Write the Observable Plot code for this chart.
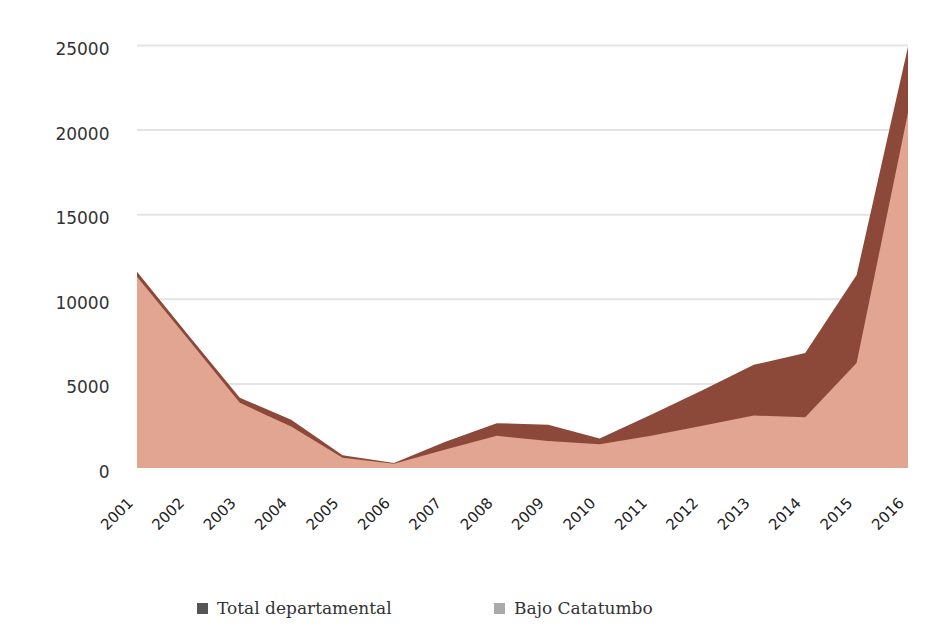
<!DOCTYPE html>
<html>
<head>
<meta charset="utf-8">
<script src="https://cdn.jsdelivr.net/npm/d3@7"></script>
<script src="https://cdn.jsdelivr.net/npm/@observablehq/plot@0.6"></script>
<style>
  html, body { margin: 0; padding: 0; background: #fff; }
  #wrap { position: relative; width: 951px; height: 636px; }
  .leg { position: absolute; top: 598px; font-family: "DejaVu Serif", "Liberation Serif", serif; font-size: 17px; color: #333; display: flex; align-items: center; }
  .sw { width: 11px; height: 11px; margin-right: 9px; display: inline-block; }
</style>
</head>
<body>
<div id="wrap">
  <div id="chart"></div>
  <div class="leg" style="left:197px"><span class="sw" style="background:#555"></span>Total departamental</div>
  <div class="leg" style="left:494px"><span class="sw" style="background:#aaa"></span>Bajo Catatumbo</div>
</div>
<script>
const years = [2001,2002,2003,2004,2005,2006,2007,2008,2009,2010,2011,2012,2013,2014,2015,2016];
const totalDepartamental = [11600,7850,4150,2850,750,300,1550,2650,2550,1750,3150,4600,6100,6800,11400,24900];
const bajoCatatumbo = [11300,7600,3850,2450,600,250,1100,1900,1600,1400,1900,2500,3100,3000,6200,21000];
const yTicks = [0,5000,10000,15000,20000,25000];

const data = years.map((y, i) => ({year: y, total: totalDepartamental[i], bajo: bajoCatatumbo[i]}));

const chart = Plot.plot({
  width: 951,
  height: 560,
  marginLeft: 137,
  marginRight: 43,
  marginTop: 45,
  marginBottom: 92,
  style: {fontFamily: "'DejaVu Sans', sans-serif", fontSize: "15px", color: "#333", background: "#fff"},
  x: {type: "linear", domain: [2001, 2016], label: null},
  y: {domain: [0, 25000], label: null},
  marks: [
    Plot.gridY(yTicks.filter(d => d > 0), {stroke: "#e4e4e4", strokeOpacity: 1, strokeWidth: 2}),
    Plot.areaY(data, {x: "year", y1: 0, y2: "total", fill: "#8c4838", curve: "linear"}),
    Plot.areaY(data, {x: "year", y1: 0, y2: "bajo", fill: "#e2a592", curve: "linear"}),
    Plot.axisY({ticks: yTicks, tickSize: 0, tickPadding: 28, dy: 4, fontSize: 17, fill: "#333", tickFormat: d => String(d)}),
    Plot.axisX({ticks: years, tickSize: 0, tickRotate: -45, tickPadding: 32, dx: -7, fontSize: 15, fill: "#222", tickFormat: d => String(d)})
  ]
});
document.getElementById("chart").appendChild(chart);
</script>
</body>
</html>
